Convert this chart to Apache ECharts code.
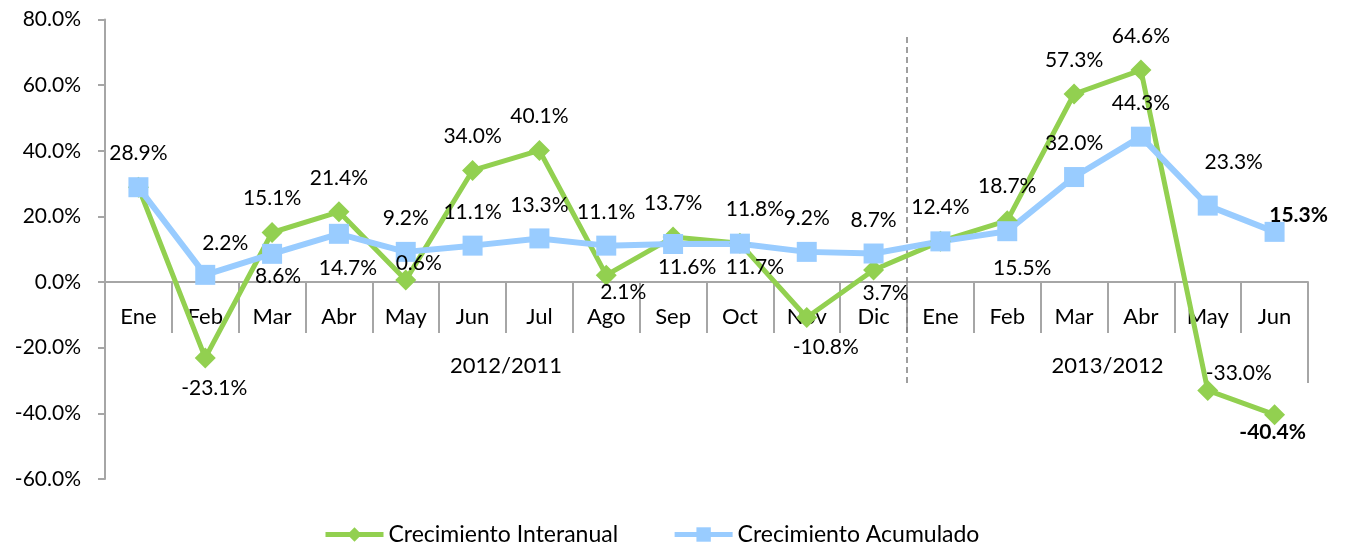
<!DOCTYPE html>
<html>
<head>
<meta charset="utf-8">
<script src="https://cdn.jsdelivr.net/npm/echarts@6/dist/echarts.min.js"></script>
<style>
html, body { margin: 0; padding: 0; background: #fff; }
#main { width: 1345px; height: 544px; }
</style>
</head>
<body>
<div id="main"></div>
<script>
var months = ['Ene', 'Feb', 'Mar', 'Abr', 'May', 'Jun', 'Jul', 'Ago', 'Sep', 'Oct', 'Nov', 'Dic',
              'Ene', 'Feb', 'Mar', 'Abr', 'May', 'Jun'];
var groupNames = ['2012/2011', '2013/2012'];
var groupSpans = [12, 6];
var interanual = [28.9, -23.1, 15.1, 21.4, 0.6, 34.0, 40.1, 2.1, 13.7, 11.8, -10.8, 3.7,
                  12.4, 18.7, 57.3, 64.6, -33.0, -40.4];
var acumulado = [28.9, 2.2, 8.6, 14.7, 9.2, 11.1, 13.3, 11.1, 11.6, 11.7, 9.2, 8.7,
                 12.4, 15.5, 32.0, 44.3, 23.3, 15.3];

// label placement per point: [position, dx, dy]; null = label shared with the other series
var interLabels = [['top',0,0],['bottom',9,-4],['top',0,0],['top',0,0],['top',13,17],['top',0,0],
                   ['top',0,0],['bottom',17,-17],['top',0,0],['top',15,0],['bottom',19,-4],['bottom',12,-11],
                   ['top',0,0],['top',0,0],['top',0,0],['top',0,0],['top',31,17],['bottom',-2,-16]];
var acumLabels = [null,['top',20,2],['bottom',6,-11],['bottom',9,1],['top',0,0],['top',0,0],
                  ['top',0,0],['top',0,0],['bottom',14,-10],['bottom',15,-10],['top',0,0],['top',0,0],
                  null,['bottom',15,4],['top',0,0],['top',0,0],['top',26,-10],['top',24,17]];

var font = 'Lato';
var axisGrey = '#a6a6a6';
var yMin = -60, yMax = 80;

// second level of the category axis, placed on the month boundaries
var groupLabels = [''];
groupSpans.forEach(function (span, i) {
    for (var k = 1; k <= span; k++) {
        groupLabels.push(k * 2 === span ? groupNames[i] : '');
    }
});
var boundaryCats = groupLabels.map(function (l, i) { return 'b' + i; });
var divider = groupSpans[0];
var last = months.length;

var gridTop = 19.5, gridBottom = 65, plotH = 544 - gridTop - gridBottom;
var zeroOffset = -plotH * (0 - yMin) / (yMax - yMin);

function buildData(values, specs) {
    return values.map(function (v, i) {
        var s = specs[i];
        if (!s) return { value: v, label: { show: false } };
        var item = { value: v, label: { position: s[0], offset: [s[1], s[2]] } };
        if (i === values.length - 1) item.label.fontWeight = 'bold';
        return item;
    });
}

var myChart = echarts.init(document.getElementById('main'));
var option = {
    animation: false,
    grid: { left: 105, right: 37, top: gridTop, bottom: gridBottom },
    legend: {
        left: 318,
        top: 518,
        itemWidth: 58,
        itemHeight: 18,
        itemGap: 54,
        lineStyle: { width: 5 },
        textStyle: { fontFamily: font, fontSize: 23, color: '#000' },
        data: ['Crecimiento Interanual', 'Crecimiento Acumulado']
    },
    xAxis: [
        {
            type: 'category',
            data: months,
            position: 'bottom',
            offset: zeroOffset,
            axisLine: { onZero: false, lineStyle: { color: axisGrey, width: 2 } },
            axisTick: { show: true, length: 51, interval: 0, lineStyle: { color: axisGrey, width: 2 } },
            axisLabel: { interval: 0, margin: 24, fontFamily: font, fontSize: 22, color: '#000' }
        },
        {
            type: 'category',
            data: boundaryCats,
            boundaryGap: false,
            position: 'bottom',
            offset: -96,
            axisLine: { show: false, onZero: false },
            axisTick: {
                show: true, inside: true, length: 50,
                interval: function (idx) { return idx === 0 || idx === last; },
                lineStyle: { color: axisGrey, width: 2 }
            },
            axisLabel: {
                inside: true, margin: 6, interval: 0,
                formatter: function (v, idx) { return groupLabels[idx]; },
                fontFamily: font, fontSize: 22, color: '#000'
            }
        },
        {
            type: 'category',
            data: boundaryCats,
            boundaryGap: false,
            position: 'bottom',
            offset: -96,
            axisLine: { show: false, onZero: false },
            axisTick: {
                show: true, inside: true, length: 346,
                interval: function (idx) { return idx === divider; },
                lineStyle: { color: '#808080', width: 1.5, type: [6, 4] }
            },
            axisLabel: { show: false }
        }
    ],
    yAxis: {
        type: 'value',
        min: yMin,
        max: yMax,
        interval: 20,
        splitLine: { show: false },
        axisLine: { show: true, lineStyle: { color: axisGrey, width: 2 } },
        axisTick: { show: true, length: 7, lineStyle: { color: axisGrey, width: 2 } },
        axisLabel: {
            margin: 24,
            formatter: function (v) { return v.toFixed(1) + '%'; },
            fontFamily: font, fontSize: 21, color: '#000'
        }
    },
    series: [
        {
            name: 'Crecimiento Interanual',
            type: 'line',
            data: buildData(interanual, interLabels),
            symbol: 'diamond',
            symbolSize: 21,
            lineStyle: { color: '#92d050', width: 5 },
            itemStyle: { color: '#92d050' },
            label: {
                show: true, distance: 13,
                formatter: function (p) { return p.value.toFixed(1) + '%'; },
                fontFamily: font, fontSize: 21, color: '#000'
            }
        },
        {
            name: 'Crecimiento Acumulado',
            type: 'line',
            data: buildData(acumulado, acumLabels),
            symbol: 'rect',
            symbolSize: 20,
            lineStyle: { color: '#99ccff', width: 6 },
            itemStyle: { color: '#99ccff' },
            label: {
                show: true, distance: 13,
                formatter: function (p) { return p.value.toFixed(1) + '%'; },
                fontFamily: font, fontSize: 21, color: '#000'
            }
        }
    ]
};
myChart.setOption(option);
</script>
</body>
</html>
